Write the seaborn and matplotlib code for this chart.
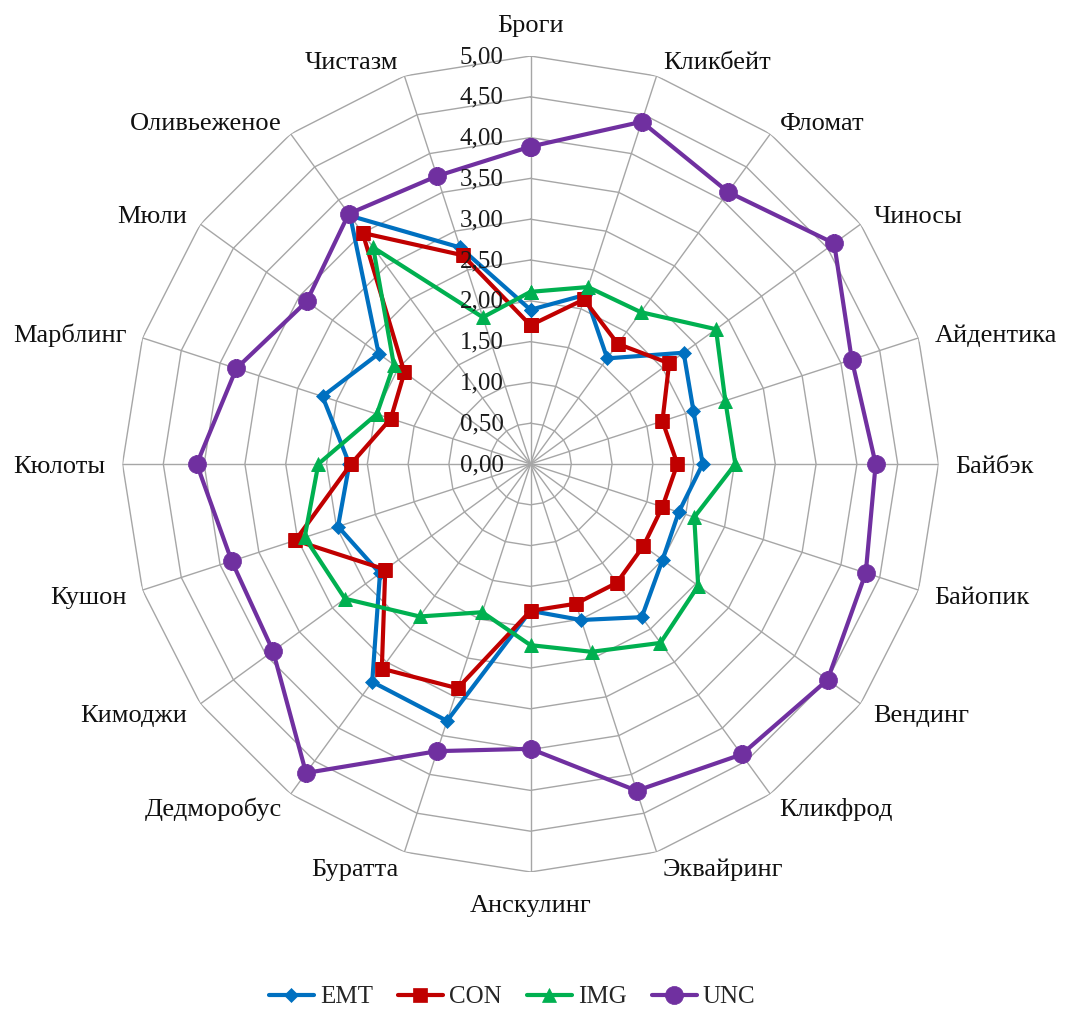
import numpy as np
import pandas as pd
import matplotlib
matplotlib.use('Agg')
import matplotlib.pyplot as plt
import matplotlib.transforms as mtransforms
import seaborn as sns

# data (clockwise from top)
categories = ['Броги', 'Кликбейт', 'Фломат', 'Чиносы', 'Айдентика', 'Байбэк',
              'Байопик', 'Вендинг', 'Кликфрод', 'Эквайринг', 'Анскулинг',
              'Буратта', 'Дедморобус', 'Кимоджи', 'Кушон', 'Кюлоты',
              'Марблинг', 'Мюли', 'Оливьеженое', 'Чистазм']
emt = [1.89, 2.18, 1.60, 2.32, 2.10, 2.11, 1.91, 2.00, 2.32, 2.01,
       1.80, 3.31, 3.30, 2.28, 2.48, 2.22, 2.68, 2.30, 3.76, 2.79]
con = [1.70, 2.12, 1.82, 2.10, 1.70, 1.80, 1.70, 1.71, 1.80, 1.80,
       1.80, 2.89, 3.10, 2.20, 3.03, 2.20, 1.80, 1.91, 3.50, 2.69]
img = [2.11, 2.28, 2.30, 2.81, 2.51, 2.51, 2.11, 2.54, 2.71, 2.42,
       2.22, 1.91, 2.31, 2.81, 2.91, 2.60, 1.98, 2.07, 3.28, 1.89]
unc = [3.89, 4.41, 4.12, 4.60, 4.14, 4.23, 4.32, 4.50, 4.40, 4.21,
       3.49, 3.70, 4.68, 3.90, 3.85, 4.09, 3.79, 3.39, 3.79, 3.71]

series_names = ['EMT', 'CON', 'IMG', 'UNC']
series_values = [emt, con, img, unc]
series_colors = ['#0070C0', '#C00000', '#00B050', '#7030A0']
series_markers = ['D', 's', '^', 'o']
marker_sizes = [7.5, 9.5, 10, 13]
levels = [0.0, 0.5, 1.0, 1.5, 2.0, 2.5, 3.0, 3.5, 4.0, 4.5, 5.0]

sns.set_style('white')
plt.rcParams['font.family'] = ['Liberation Serif', 'DejaVu Serif']

n = len(categories)
angles = np.linspace(0, 2 * np.pi, n, endpoint=False)

rows = []
for name, vals in zip(series_names, series_values):
    for a, v in zip(list(angles) + [2 * np.pi], list(vals) + [vals[0]]):
        rows.append({'series': name, 'theta': a, 'value': v})
df = pd.DataFrame(rows)

W, H = 1067, 1016
fig = plt.figure(figsize=(W / 100, H / 100), dpi=100)
cx, cy, R = 530.5, 464, 408
ax = fig.add_axes([(cx - R) / W, (H - cy - R) / H, 2 * R / W, 2 * R / H],
                  projection='polar')
ax.set_theta_zero_location('N')
ax.set_theta_direction(-1)
ax.grid(False)
ax.spines['polar'].set_visible(False)
ax.set_xticks([])
ax.set_yticks([])

# polygon grid (Excel style)
grid_c = '#a6a6a6'
ring_theta = list(angles) + [2 * np.pi]
for lv in levels[1:]:
    ax.plot(ring_theta, [lv] * len(ring_theta), color=grid_c, lw=1.0, zorder=1)
for a in angles:
    ax.plot([a, a], [0, levels[-1]], color=grid_c, lw=1.0, zorder=1)

# series
for name, col, mk, ms in zip(series_names, series_colors, series_markers, marker_sizes):
    sub = df[df['series'] == name]
    sns.lineplot(data=sub, x='theta', y='value', ax=ax, color=col, marker=mk,
                 markersize=ms, markeredgecolor=col, markerfacecolor=col,
                 markeredgewidth=0.5, linewidth=3, sort=False, estimator=None,
                 errorbar=None, label=name, zorder=3)
ax.set_ylim(0, levels[-1])
ax.set_xlabel('')
ax.set_ylabel('')

# radial tick labels left of the top spoke
tick_tr = mtransforms.offset_copy(ax.transData, fig=fig, x=-27, y=-1, units='dots')
for lv in levels:
    ax.text(0, lv, f'{lv:.2f}'.replace('.', ','), transform=tick_tr,
            ha='right', va='center', fontsize=18, color='#1a1a1a', zorder=4)

# category labels, placed roughly the way Excel does it
for a, cat in zip(angles, categories):
    s, c = np.sin(a), np.cos(a)
    if abs(s) < 0.01:
        ha = 'center'
        dx = 0
        dy = 24 if c > 0 else -40
    else:
        ha = 'left' if s > 0 else 'right'
        dx = np.sign(s) * (5 + 12 * s ** 2)
        dy = 16 * c - 8.7
    tr = mtransforms.offset_copy(ax.transData, fig=fig, x=dx, y=dy, units='dots')
    ax.text(a, levels[-1], cat, transform=tr, ha=ha, va='baseline', fontsize=19,
            color='#111111')

handles, labels = ax.get_legend_handles_labels()
if ax.get_legend() is not None:
    ax.get_legend().remove()
fig.legend(handles, labels, loc='center', bbox_to_anchor=(512 / W, 19 / H), ncol=4,
           frameon=False, fontsize=18, handlelength=1.8, handletextpad=0.25,
           columnspacing=1.0)

fig.savefig('out.png', dpi=100)
